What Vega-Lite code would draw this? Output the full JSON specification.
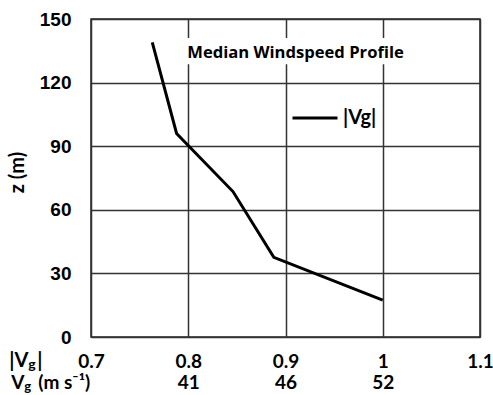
{
  "$schema": "https://vega.github.io/schema/vega-lite/v6.json",
  "width": 389,
  "height": 318,
  "autosize": {"type": "none"},
  "padding": {"left": 91, "top": 19, "right": 13, "bottom": 58},
  "background": "white",
  "config": {
    "view": {"stroke": "#222222", "strokeWidth": 1.5},
    "axis": {"gridColor": "#333333", "gridWidth": 1.5, "gridOpacity": 1, "ticks": false, "domain": false, "labelColor": "black", "titleColor": "black"}
  },
  "data": {
    "values": [
      {"vg": 0.763, "z": 139, "series": "|Vg|"},
      {"vg": 0.788, "z": 96, "series": "|Vg|"},
      {"vg": 0.846, "z": 68.6, "series": "|Vg|"},
      {"vg": 0.888, "z": 37.6, "series": "|Vg|"},
      {"vg": 1.0, "z": 17.4, "series": "|Vg|"}
    ]
  },
  "layer": [
    {
      "mark": {"type": "line", "strokeWidth": 3, "clip": false},
      "encoding": {
        "x": {
          "field": "vg", "type": "quantitative",
          "scale": {"domain": [0.7, 1.1], "nice": false, "zero": false},
          "axis": {
            "values": [0.7, 0.8, 0.9, 1.0, 1.1],
            "grid": true,
            "title": null,
            "labelFont": "Lato", "labelFontWeight": "bold", "labelFontSize": 19,
            "labelPadding": 15,
            "labelLineHeight": 21,
            "labelFlush": false, "labelOverlap": false, "labelBound": false,
            "labelExpr": "datum.value == 0.8 ? ['0.8', '41'] : datum.value == 0.9 ? ['0.9', '46'] : datum.value == 1 ? ['1', '52'] : datum.value == 0.7 ? '0.7' : '1.1'"
          }
        },
        "y": {
          "field": "z", "type": "quantitative",
          "scale": {"domain": [0, 150], "nice": false, "zero": true},
          "axis": {
            "values": [0, 30, 60, 90, 120, 150],
            "grid": true,
            "title": "z  (m)",
            "titleFont": "Lato", "titleFontWeight": "bold", "titleFontSize": 20,
            "titleX": -74, "titleY": 153, "titleAngle": 270, "titleAlign": "center", "titleBaseline": "middle",
            "labelFont": "Liberation Sans", "labelFontWeight": "bold", "labelFontSize": 19,
            "labelPadding": 20, "labelFlush": false, "labelOverlap": false, "labelBound": false
          }
        },
        "color": {
          "field": "series", "type": "nominal",
          "scale": {"range": ["black"]},
          "legend": {
            "orient": "none", "legendX": 200, "legendY": 75,
            "title": null, "padding": 0,
            "symbolType": "stroke", "symbolSize": 2025, "symbolStrokeWidth": 3,
            "labelFont": "Lato", "labelFontWeight": "bold", "labelFontSize": 20, "labelOffset": 4, "labelColor": "black"
          }
        }
      }
    },
    {
      "data": {"values": [{"label": "Median Windspeed Profile"}]},
      "mark": {"type": "rect", "fill": "white", "stroke": null},
      "encoding": {
        "x": {"datum": 0.797, "type": "quantitative"},
        "x2": {"datum": 1.045},
        "y": {"datum": 128.7, "type": "quantitative"},
        "y2": {"datum": 141}
      }
    },
    {
      "data": {"values": [{"label": "Median Windspeed Profile"}]},
      "mark": {"type": "text", "font": "Open Sans", "fontWeight": "bold", "fontSize": 16.6, "align": "left", "baseline": "alphabetic", "dx": -1, "color": "black"},
      "encoding": {
        "x": {"datum": 0.8, "type": "quantitative"},
        "y": {"datum": 131.7, "type": "quantitative"},
        "text": {"field": "label"}
      }
    },
    {
      "data": {"values": [{"label": "|V"}]},
      "mark": {"type": "text", "font": "Lato", "fontWeight": "bold", "fontSize": 20, "align": "left", "baseline": "alphabetic", "color": "black"},
      "encoding": {
        "x": {"datum": 0.616, "type": "quantitative"},
        "y": {"datum": -14, "type": "quantitative"},
        "text": {"field": "label"}
      }
    },
    {
      "data": {"values": [{"label": "g"}]},
      "mark": {"type": "text", "font": "Lato", "fontWeight": "bold", "fontSize": 14, "align": "left", "baseline": "alphabetic", "dx": 19, "dy": 2, "color": "black"},
      "encoding": {
        "x": {"datum": 0.616, "type": "quantitative"},
        "y": {"datum": -14, "type": "quantitative"},
        "text": {"field": "label"}
      }
    },
    {
      "data": {"values": [{"label": "|"}]},
      "mark": {"type": "text", "font": "Lato", "fontWeight": "bold", "fontSize": 20, "align": "left", "baseline": "alphabetic", "dx": 28, "color": "black"},
      "encoding": {
        "x": {"datum": 0.616, "type": "quantitative"},
        "y": {"datum": -14, "type": "quantitative"},
        "text": {"field": "label"}
      }
    },
    {
      "data": {"values": [{"label": "V"}]},
      "mark": {"type": "text", "font": "Lato", "fontWeight": "bold", "fontSize": 19, "align": "left", "baseline": "alphabetic", "dx": 2, "color": "black"},
      "encoding": {
        "x": {"datum": 0.616, "type": "quantitative"},
        "y": {"datum": -24.5, "type": "quantitative"},
        "text": {"field": "label"}
      }
    },
    {
      "data": {"values": [{"label": "g"}]},
      "mark": {"type": "text", "font": "Lato", "fontWeight": "bold", "fontSize": 13, "align": "left", "baseline": "alphabetic", "dx": 15, "dy": 2, "color": "black"},
      "encoding": {
        "x": {"datum": 0.616, "type": "quantitative"},
        "y": {"datum": -24.5, "type": "quantitative"},
        "text": {"field": "label"}
      }
    },
    {
      "data": {"values": [{"label": "(m s⁻¹)"}]},
      "mark": {"type": "text", "font": "Lato", "fontWeight": "bold", "fontSize": 19, "align": "left", "baseline": "alphabetic", "dx": 29, "color": "black"},
      "encoding": {
        "x": {"datum": 0.616, "type": "quantitative"},
        "y": {"datum": -24.5, "type": "quantitative"},
        "text": {"field": "label"}
      }
    }
  ]
}
